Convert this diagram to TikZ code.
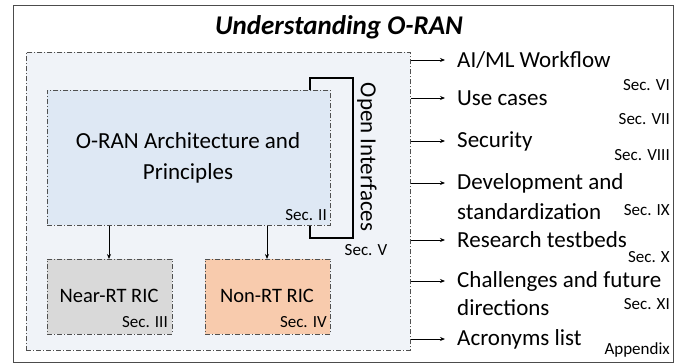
\documentclass[tikz,border=0pt]{standalone}
\usepackage{fontspec}
\setmainfont{Carlito}
\usetikzlibrary{arrows.meta,positioning}
\definecolor{outerfill}{HTML}{F0F3F8}
\definecolor{archfill}{HTML}{DEE8F4}
\definecolor{nearfill}{HTML}{D9D9D9}
\definecolor{nonfill}{HTML}{F8CBAD}
\definecolor{dashcol}{HTML}{505050}
\tikzset{
  dashbox/.style={draw=dashcol, line width=0.8pt, dash pattern=on 5pt off 2pt on 1pt off 2pt},
  itemtxt/.style={anchor=west, inner sep=0pt, font=\fontsize{23}{27}\selectfont},
  sectxt/.style={anchor=east, inner sep=0pt, font=\fontsize{17}{20}\selectfont},
  boxtxt/.style={inner sep=0pt, font=\fontsize{20.5}{24}\selectfont},
  arr/.style={-{Stealth[length=5pt,width=4pt]}, line width=0.8pt},
  bracket/.style={line width=1.6pt},
}
\begin{document}
\begin{tikzpicture}[x=1pt,y=-1pt]
\useasboundingbox (0,0) rectangle (680,364);
\fill[white] (0,0) rectangle (680,364);
% outer frame
\draw[line width=1pt, draw=black!70] (13,5) rectangle (673,362);
\node[inner sep=0pt, font=\fontsize{27}{31}\selectfont\bfseries\itshape] (title) at (339,27) {Understanding O-RAN};
% outer dash region
\node[dashbox, fill=outerfill, minimum width=384pt, minimum height=298pt, inner sep=0pt, anchor=north west] (region) at (26,52) {};
% architecture box
\node[dashbox, fill=archfill, minimum width=283pt, minimum height=135pt, inner sep=0pt, anchor=north west] (arch) at (47,90) {};
\node[inner sep=0pt, align=center, font=\fontsize{23}{31}\selectfont] (archtxt) at (188,158) {O-RAN Architecture and\\Principles};
\node[sectxt] (sec2) at (327,215) {Sec. II};
% RIC boxes
\node[dashbox, fill=nearfill, minimum width=125pt, minimum height=75pt, inner sep=0pt, anchor=north west] (near) at (47,259) {};
\node[boxtxt] (neartxt) at (109,296) {Near-RT RIC};
\node[sectxt] (sec3) at (168,322) {Sec. III};
\node[dashbox, fill=nonfill, minimum width=125pt, minimum height=75pt, inner sep=0pt, anchor=north west] (non) at (205,259) {};
\node[boxtxt] (nontxt) at (267,296) {Non-RT RIC};
\node[sectxt] (sec4) at (327,322) {Sec. IV};
\coordinate (a1) at (109,0);
\coordinate (a2) at (267,0);
\draw[arr] (arch.south -| a1) -- (near.north -| a1);
\draw[arr] (arch.south -| a2) -- (non.north -| a2);
% open interfaces bracket
\coordinate (bt) at (310,78);
\coordinate (bb) at (310,238);
\draw[bracket] (arch.north -| bt) -- (bt) -- (353,78) -- (353,238) -- (bb) -- (arch.south -| bb);
\node[rotate=-90, inner sep=0pt, font=\fontsize{23}{27}\selectfont] (oi) at (367,157) {Open Interfaces};
\node[inner sep=0pt, font=\fontsize{17}{20}\selectfont] (sec5) at (366,250) {Sec. V};
% right list
\node[itemtxt] (ai) at (457,60) {AI/ML Workflow};
\node[itemtxt] (use) at (457,98) {Use cases};
\node[itemtxt] (secu) at (457,141) {Security};
\node[itemtxt] (dev) at (457,183) {Development and};
\node[itemtxt] (dev2) at (457,212) {standardization};
\node[itemtxt] (res) at (457,240) {Research testbeds};
\node[itemtxt] (cha) at (457,281) {Challenges and future};
\node[itemtxt] (cha2) at (457,308) {directions};
\node[itemtxt] (acr) at (457,339) {Acronyms list};
\node[sectxt] (s6) at (670,85) {Sec. VI};
\node[sectxt] (s7) at (670,119) {Sec. VII};
\node[sectxt] (s8) at (670,155) {Sec. VIII};
\node[sectxt] (s9) at (670,210) {Sec. IX};
\node[sectxt] (s10) at (670,257) {Sec. X};
\node[sectxt] (s11) at (670,304) {Sec. XI};
\node[sectxt] (sapp) at (670,350) {Appendix};
\foreach \t in {ai,use,secu,dev,res,cha,acr}{
  \draw[arr, shorten >=12pt] (region.east |- \t.west) -- (\t.west);
}
\end{tikzpicture}
\end{document}
